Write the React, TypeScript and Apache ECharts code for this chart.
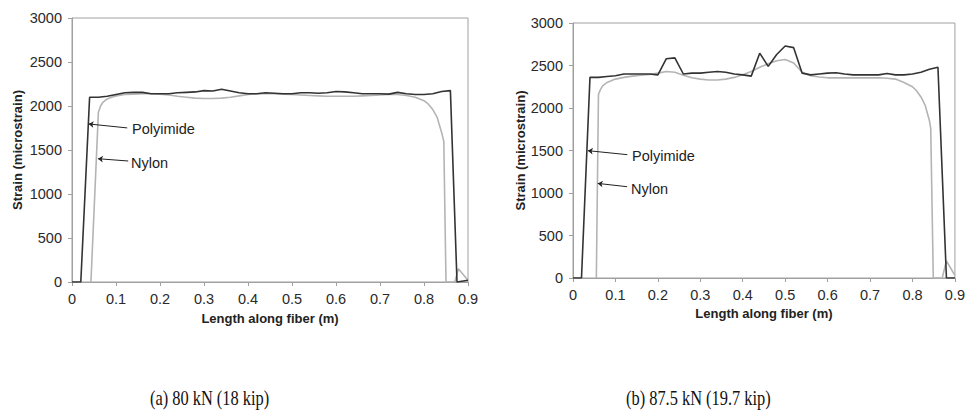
import React, { useEffect, useRef } from "react";
import * as echarts from "echarts";

// Panel (a) 80 kN
const polyA: [number, number][] = [
  [0, 0], [0.02, 0], [0.04, 2100], [0.06, 2100], [0.08, 2110], [0.1, 2130], [0.12, 2150], [0.14, 2155],
  [0.16, 2155], [0.18, 2140], [0.2, 2140], [0.22, 2140], [0.24, 2150], [0.26, 2155], [0.28, 2160],
  [0.3, 2175], [0.32, 2170], [0.34, 2190], [0.36, 2170], [0.38, 2150], [0.4, 2140], [0.42, 2140],
  [0.44, 2150], [0.46, 2145], [0.48, 2140], [0.5, 2140], [0.52, 2150], [0.54, 2150], [0.56, 2145],
  [0.58, 2150], [0.6, 2165], [0.62, 2160], [0.64, 2150], [0.66, 2140], [0.68, 2140], [0.7, 2140],
  [0.72, 2135], [0.74, 2155], [0.76, 2140], [0.78, 2130], [0.8, 2130], [0.82, 2140], [0.84, 2165],
  [0.86, 2175], [0.875, 0], [0.9, 20],
];
const nylonA: [number, number][] = [
  [0.043, 0], [0.06, 1930], [0.065, 2000], [0.07, 2040], [0.08, 2080], [0.09, 2100], [0.1, 2115],
  [0.12, 2130], [0.14, 2135], [0.16, 2140], [0.18, 2140], [0.2, 2135], [0.22, 2125], [0.24, 2110],
  [0.26, 2100], [0.28, 2090], [0.3, 2085], [0.32, 2085], [0.34, 2090], [0.36, 2100], [0.38, 2115],
  [0.4, 2130], [0.42, 2140], [0.44, 2140], [0.46, 2140], [0.48, 2135], [0.5, 2130], [0.52, 2125],
  [0.54, 2120], [0.56, 2115], [0.58, 2110], [0.6, 2110], [0.62, 2110], [0.64, 2110], [0.66, 2115],
  [0.68, 2120], [0.7, 2125], [0.72, 2130], [0.74, 2130], [0.76, 2120], [0.78, 2100], [0.79, 2080],
  [0.8, 2060], [0.81, 2020], [0.82, 1960], [0.83, 1870], [0.84, 1700], [0.845, 1600], [0.85, 0],
  [0.87, 0], [0.878, 150], [0.9, 20],
];

// Panel (b) 87.5 kN
const polyB: [number, number][] = [
  [0, 0], [0.02, 0], [0.04, 2360], [0.06, 2360], [0.08, 2370], [0.1, 2380], [0.12, 2400], [0.14, 2400],
  [0.16, 2400], [0.18, 2400], [0.2, 2390], [0.22, 2580], [0.24, 2590], [0.26, 2400], [0.28, 2410],
  [0.3, 2410], [0.32, 2420], [0.34, 2430], [0.36, 2420], [0.38, 2400], [0.4, 2390], [0.42, 2375],
  [0.44, 2645], [0.46, 2490], [0.48, 2630], [0.5, 2730], [0.52, 2710], [0.54, 2410], [0.56, 2390],
  [0.58, 2400], [0.6, 2410], [0.62, 2415], [0.64, 2400], [0.66, 2390], [0.68, 2390], [0.7, 2390],
  [0.72, 2390], [0.74, 2405], [0.76, 2390], [0.78, 2390], [0.8, 2400], [0.82, 2420], [0.84, 2455],
  [0.86, 2480], [0.88, 0], [0.9, 0],
];
const nylonB: [number, number][] = [
  [0.055, 0], [0.06, 2160], [0.065, 2220], [0.07, 2260], [0.08, 2300], [0.09, 2320], [0.1, 2340],
  [0.12, 2360], [0.14, 2375], [0.16, 2385], [0.18, 2395], [0.2, 2410], [0.22, 2430], [0.24, 2420],
  [0.26, 2385], [0.28, 2355], [0.3, 2340], [0.32, 2330], [0.34, 2330], [0.36, 2340], [0.38, 2360],
  [0.4, 2390], [0.42, 2430], [0.44, 2480], [0.46, 2520], [0.48, 2555], [0.5, 2570], [0.52, 2530],
  [0.54, 2420], [0.56, 2380], [0.58, 2365], [0.6, 2355], [0.62, 2355], [0.64, 2355], [0.66, 2355],
  [0.68, 2355], [0.7, 2355], [0.72, 2355], [0.74, 2350], [0.76, 2340], [0.78, 2300], [0.8, 2250],
  [0.81, 2200], [0.82, 2130], [0.83, 2030], [0.84, 1850], [0.843, 1760], [0.849, 0], [0.87, 0],
  [0.88, 200], [0.9, 30],
];

// annotation arrows: [label-side point, tip on curve]
const arrowPolyA: [number, number][] = [[0.1255, 1751], [0.0377, 1796]];
const arrowNylonA: [number, number][] = [[0.1278, 1375], [0.059, 1401]];
const arrowPolyB: [number, number][] = [[0.128, 1451], [0.035, 1498]];
const arrowNylonB: [number, number][] = [[0.1275, 1074], [0.0583, 1113]];

const seriesNames = ["Polyimide", "Nylon"];
const captions = ["(a) 80 kN (18 kip)", "(b) 87.5 kN (19.7 kip)"];
const xLabel = "Length along fiber (m)";
const yLabel = "Strain (microstrain)";

const DARK = "#333333";
const LIGHT = "#b4b4b4";
const AXIS = "#a0a0a0";
const FONT = "'Liberation Sans', Arial, sans-serif";
const SERIF = "'Liberation Serif', 'Times New Roman', serif";

function makeX(gridIndex: number, nameGap: number) {
  return {
    type: "value",
    gridIndex,
    min: 0,
    max: 0.9,
    interval: 0.1,
    name: xLabel,
    nameLocation: "middle",
    nameGap,
    nameTextStyle: { fontFamily: FONT, fontSize: 13, fontWeight: "bold", color: "#222" },
    axisLine: { show: true, lineStyle: { color: AXIS, width: 1 } },
    axisTick: { show: true, inside: false, length: 4, lineStyle: { color: AXIS } },
    axisLabel: {
      fontFamily: FONT,
      fontSize: 14.5,
      color: "#2a2a2a",
      margin: 9,
      formatter: (v: number) => String(parseFloat(v.toFixed(1))),
    },
    splitLine: { show: false },
  };
}

function makeY(gridIndex: number, nameGap: number) {
  return {
    type: "value",
    gridIndex,
    min: 0,
    max: 3000,
    interval: 500,
    name: yLabel,
    nameLocation: "middle",
    nameGap,
    nameRotate: 90,
    nameTextStyle: { fontFamily: FONT, fontSize: 13, fontWeight: "bold", color: "#222" },
    axisLine: { show: true, lineStyle: { color: AXIS, width: 1 } },
    axisTick: { show: true, inside: false, length: 4, lineStyle: { color: AXIS } },
    axisLabel: {
      fontFamily: FONT,
      fontSize: 14.5,
      color: "#2a2a2a",
      margin: 10,
      formatter: (v: number) => String(v),
    },
    splitLine: { show: false },
  };
}

function arrowLine(pts: [number, number][]) {
  return {
    silent: true,
    symbol: ["none", "arrow"],
    symbolSize: 5,
    label: { show: false },
    lineStyle: { color: "#222", width: 1, type: "solid" },
    data: [[{ coord: pts[0] }, { coord: pts[1] }]],
  };
}

function lineSeries(name: string, data: [number, number][], idx: number, color: string, ml: any) {
  return {
    name,
    type: "line",
    xAxisIndex: idx,
    yAxisIndex: idx,
    data,
    showSymbol: false,
    symbol: "none",
    lineStyle: { color, width: 1.6 },
    itemStyle: { color },
    markLine: ml,
    z: color === DARK ? 3 : 2,
  };
}

export default function App() {
  const ref = useRef<HTMLDivElement>(null);
  useEffect(() => {
    document.body.style.margin = "0";
    if (!ref.current) return;
    const chart = echarts.init(ref.current, undefined, { renderer: "svg" });
    const labelStyle = { fontFamily: FONT, fontSize: 14.5, fill: "#222" };
    chart.setOption({
      animation: false,
      backgroundColor: "#ffffff",
      grid: [
        { left: 72, top: 18, width: 396, height: 264, show: true, borderColor: AXIS, borderWidth: 1 },
        { left: 573, top: 23, width: 386, height: 255, show: true, borderColor: AXIS, borderWidth: 1 },
      ],
      xAxis: [makeX(0, 30), makeX(1, 26)],
      yAxis: [makeY(0, 48), makeY(1, 46)],
      series: [
        lineSeries(seriesNames[1], nylonA, 0, LIGHT, arrowLine(arrowNylonA)),
        lineSeries(seriesNames[0], polyA, 0, DARK, arrowLine(arrowPolyA)),
        lineSeries(seriesNames[1], nylonB, 1, LIGHT, arrowLine(arrowNylonB)),
        lineSeries(seriesNames[0], polyB, 1, DARK, arrowLine(arrowPolyB)),
      ],
      graphic: [
        { type: "text", left: 132, top: 121, style: { ...labelStyle, text: seriesNames[0] } },
        { type: "text", left: 131, top: 155, style: { ...labelStyle, text: seriesNames[1] } },
        { type: "text", left: 632, top: 148, style: { ...labelStyle, text: seriesNames[0] } },
        { type: "text", left: 631, top: 181, style: { ...labelStyle, text: seriesNames[1] } },
        {
          type: "text", x: 150, y: 388, scaleX: 0.82,
          style: { text: captions[0], fontFamily: SERIF, fontSize: 20, fill: "#111" },
        },
        {
          type: "text", x: 626, y: 388, scaleX: 0.82,
          style: { text: captions[1], fontFamily: SERIF, fontSize: 20, fill: "#111" },
        },
      ],
    });
    return () => chart.dispose();
  }, []);
  return <div ref={ref} style={{ width: 968, height: 412 }} />;
}
